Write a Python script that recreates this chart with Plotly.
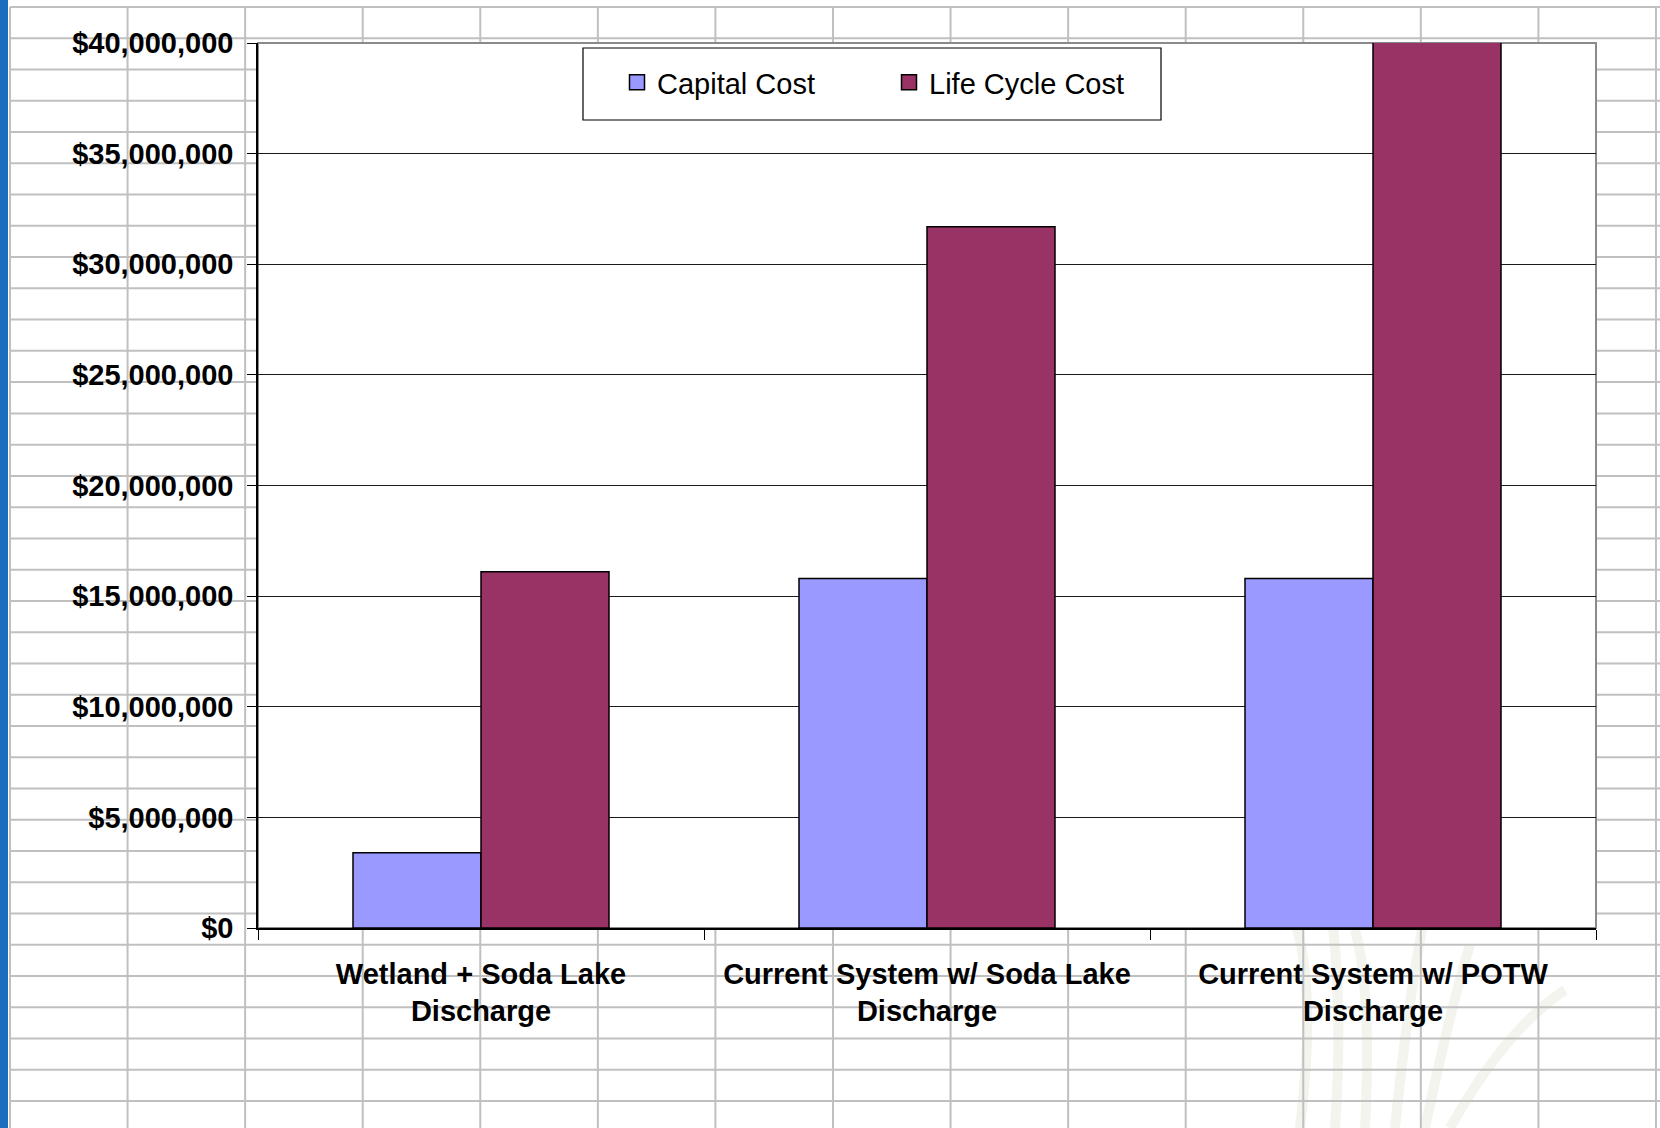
import plotly.graph_objects as go

# ---- data ----
categories = [
    "Wetland + Soda Lake<br>Discharge",
    "Current System w/ Soda Lake<br>Discharge",
    "Current System w/ POTW<br>Discharge",
]
capital_cost = [3.4e6, 15.8e6, 15.8e6]
life_cycle_cost = [16.1e6, 31.7e6, 40.2e6]
series_names = ["Capital Cost", "Life Cycle Cost"]
series_colors = ["#9999ff", "#993366"]
y_ticks = [0, 5e6, 10e6, 15e6, 20e6, 25e6, 30e6, 35e6, 40e6]
y_tick_labels = ["$" + f"{v:,.0f}" for v in y_ticks]

# ---- layout geometry (pixels) ----
W, H = 1660, 1128
L, R, T, B = 258, 1596, 43, 928
PW, PH = R - L, B - T


def px(x):
    return (x - L) / PW


def py(y):
    return (B - y) / PH


shapes = []
# spreadsheet-like background grid
GRID = "#c0c0c0"
x0g, dxg = 10, 117.57
y0g, dyg = 7, 31.26
# faint grass decoration (behind grid)
grass = [
    (1300, 1128, 1320, 960, 1285, 900),
    (1335, 1128, 1345, 980, 1325, 870),
    (1365, 1128, 1372, 990, 1355, 930),
    (1395, 1128, 1410, 980, 1430, 890),
    (1425, 1128, 1450, 1010, 1470, 945),
    (1450, 1128, 1505, 1030, 1565, 990),
]
for (ax, ay, cx, cy, ex, ey) in grass:
    shapes.append(dict(type="path", xref="paper", yref="paper", layer="below",
                       path=f"M{px(ax)},{py(ay)} Q{px(cx)},{py(cy)} {px(ex)},{py(ey)}",
                       line=dict(color="rgb(242,244,237)", width=10)))
for k in range(15):
    xx = x0g + dxg * k
    shapes.append(dict(type="line", xref="paper", yref="paper", layer="below",
                       x0=px(xx), x1=px(xx), y0=py(y0g), y1=py(H + 5),
                       line=dict(color=GRID, width=2)))
for k in range(37):
    yy = y0g + dyg * k
    shapes.append(dict(type="line", xref="paper", yref="paper", layer="below",
                       x0=px(x0g), x1=px(W + 5), y0=py(yy), y1=py(yy),
                       line=dict(color=GRID, width=2)))
# left blue strip
shapes.append(dict(type="rect", xref="paper", yref="paper", layer="below",
                   x0=px(-2), x1=px(8), y0=py(-2), y1=py(H + 2),
                   fillcolor="#1a6ebd", line=dict(width=0)))
# white plot area with grey frame
shapes.append(dict(type="rect", xref="paper", yref="paper", layer="below",
                   x0=0, x1=1, y0=0, y1=1,
                   fillcolor="white", line=dict(color="#8a8a8a", width=2)))
# legend box
shapes.append(dict(type="rect", xref="paper", yref="paper", layer="above",
                   x0=px(583), x1=px(1161), y0=py(48), y1=py(120),
                   fillcolor="white", line=dict(color="black", width=1.2)))

fig = go.Figure()
fig.add_trace(go.Bar(
    x=categories, y=capital_cost, name=series_names[0],
    marker=dict(color=series_colors[0], line=dict(color="black", width=1.5)),
    showlegend=False,
))
fig.add_trace(go.Bar(
    x=categories, y=life_cycle_cost, name=series_names[1],
    marker=dict(color=series_colors[1], line=dict(color="black", width=1.5)),
    showlegend=False,
))
# legend entries (square swatches like the original)
for i, (nm, col) in enumerate(zip(series_names, series_colors)):
    fig.add_trace(go.Scatter(
        x=[None], y=[None], mode="markers", name=nm,
        marker=dict(symbol="square", size=15, color=col,
                    line=dict(color="black", width=1.5)),
        legend="legend" if i == 0 else "legend2",
        showlegend=True, hoverinfo="skip",
    ))

legend_font = dict(family="Liberation Sans, Arial", size=29, color="black")
fig.update_layout(
    width=W, height=H, autosize=False,
    margin=dict(l=L, r=W - R, t=T, b=H - B, pad=0),
    paper_bgcolor="white",
    plot_bgcolor="rgba(0,0,0,0)",
    barmode="group",
    bargap=0.426,
    bargroupgap=0,
    font=dict(family="Liberation Sans, Arial, sans-serif", color="black"),
    shapes=shapes,
    showlegend=True,
    legend=dict(
        orientation="h",
        x=px(617), y=py(57), xanchor="left", yanchor="top",
        bgcolor="rgba(0,0,0,0)", borderwidth=0, font=legend_font,
    ),
    legend2=dict(
        orientation="h",
        x=px(889), y=py(57), xanchor="left", yanchor="top",
        bgcolor="rgba(0,0,0,0)", borderwidth=0, font=legend_font,
    ),
)

fig.update_xaxes(
    type="category",
    categoryorder="array", categoryarray=categories,
    showgrid=False,
    showline=True, linecolor="black", linewidth=1.5,
    ticks="outside", tickson="boundaries", ticklen=10, tickcolor="black", tickwidth=1.2,
    tickfont=dict(family="Liberation Sans, Arial", size=29, color="black", weight="bold"),
    ticklabelstandoff=19,
)
fig.update_yaxes(
    range=[0, 40e6],
    tickmode="array",
    tickvals=y_ticks,
    ticktext=y_tick_labels,
    showgrid=True, gridcolor="#1a1a1a", gridwidth=1,
    zeroline=False,
    showline=True, linecolor="black", linewidth=1.5,
    ticks="outside", ticklen=9, tickcolor="black", tickwidth=1.2,
    tickfont=dict(family="Liberation Sans, Arial", size=29, color="black", weight="bold"),
    ticklabelstandoff=8,
)

fig.write_html("out.html")
